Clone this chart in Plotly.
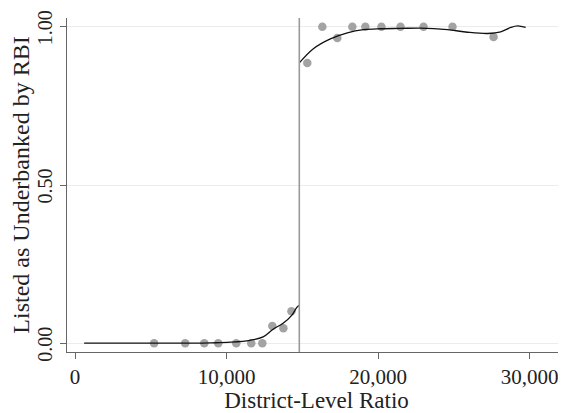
import plotly.graph_objects as go

# Binned scatter points
pts_left_x = [5220, 7270, 8530, 9450, 10640, 11630, 12360, 13020, 13750, 14280]
pts_left_y = [0.0, 0.0, 0.0, 0.0, 0.0, 0.0, 0.0, 0.054, 0.047, 0.101]
pts_right_x = [15330, 16320, 17310, 18300, 19160, 20220, 21480, 23000, 24910, 27620]
pts_right_y = [0.886, 1.0, 0.965, 1.0, 1.0, 1.0, 1.0, 1.0, 1.0, 0.968]

# Fitted curves
fit_left_x = [600, 2000, 4000, 6000, 8000, 9000, 10230, 11550, 12410, 13070, 13730, 14300, 14650, 14800]
fit_left_y = [0.0, 0.0, 0.0, 0.0, 0.0, 0.001, 0.003, 0.009, 0.02, 0.044, 0.063, 0.088, 0.114, 0.12]
fit_right_x = [14800, 15730, 16850, 17970, 19030, 20150, 21480, 22800, 24580, 25900, 27230, 28090, 28750, 29210, 29740]
fit_right_y = [0.886, 0.931, 0.962, 0.981, 0.991, 0.994, 0.995, 0.996, 0.991, 0.983, 0.979, 0.984, 0.998, 1.003, 0.998]

cutoff = 14800
x_ticks = [0, 10000, 20000, 30000]
x_tick_labels = ["0", "10,000", "20,000", "30,000"]
y_ticks = [0, 0.5, 1.0]
y_tick_labels = ["0.00", "0.50", "1.00"]

FONT = "Liberation Serif"
fig = go.Figure()

for xs, ys in [(pts_left_x, pts_left_y), (pts_right_x, pts_right_y)]:
    fig.add_trace(go.Scatter(x=xs, y=ys, mode="markers",
                             marker=dict(color="#a3a3a3", size=8.5, line=dict(width=0)),
                             showlegend=False, hoverinfo="skip"))
for xs, ys in [(fit_left_x, fit_left_y), (fit_right_x, fit_right_y)]:
    fig.add_trace(go.Scatter(x=xs, y=ys, mode="lines", line=dict(color="#111111", width=1.3, shape="spline"),
                             showlegend=False, hoverinfo="skip"))

fig.add_shape(type="line", x0=cutoff, x1=cutoff, y0=0, y1=1, xref="x", yref="paper",
              line=dict(color="#9a9a9a", width=1.6))

fig.update_layout(
    width=558, height=405,
    margin=dict(l=59, r=0, t=10, b=61),
    paper_bgcolor="white", plot_bgcolor="white",
    font=dict(family=FONT, size=22, color="#222222"),
    xaxis=dict(range=[-530, 32400], tickmode="array", tickvals=x_ticks, ticktext=x_tick_labels,
               showgrid=False, zeroline=False, showline=True, linecolor="#666666", linewidth=1.2,
               ticks="outside", ticklen=6, tickcolor="#666666", automargin=False,
               tickfont=dict(size=21),
               title=dict(text="District-Level Ratio", standoff=3, font=dict(size=23))),
    yaxis=dict(range=[-0.028, 1.028], tickmode="array", tickvals=y_ticks, ticktext=y_tick_labels,
               tickangle=-90, showgrid=True, gridcolor="#ececec", gridwidth=1, zeroline=False,
               showline=True, linecolor="#666666", linewidth=1.2, automargin=False,
               ticks="outside", ticklen=6, tickcolor="#666666", ticklabeloverflow="allow",
               ticklabelshift=4,
               tickfont=dict(size=20),
               title=dict(text="Listed as Underbanked by RBI", standoff=4, font=dict(size=24))),
)

fig.write_html("out.html")
